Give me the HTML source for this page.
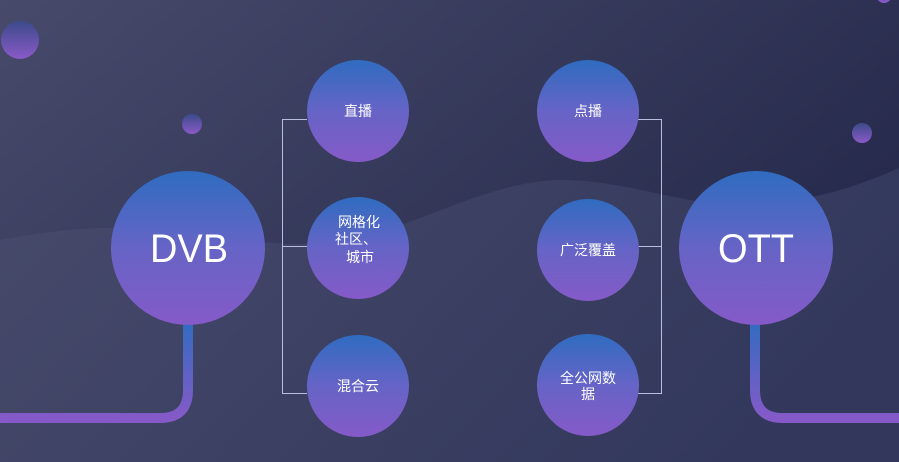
<!DOCTYPE html>
<html><head><meta charset="utf-8"><style>
html,body{margin:0;padding:0;width:899px;height:462px;overflow:hidden;background:#30355a}
svg{display:block}
text{font-family:"Liberation Sans","Noto Sans CJK SC",sans-serif;fill:#fff;text-anchor:middle}
</style></head><body>
<svg width="899" height="462" viewBox="0 0 899 462" xmlns="http://www.w3.org/2000/svg">
<defs>
<linearGradient id="bg" x1="0" y1="0" x2="1" y2="0.6">
<stop offset="0" stop-color="#474a6b"/><stop offset="1" stop-color="#232749"/></linearGradient>
<linearGradient id="wv" x1="0" y1="0" x2="1" y2="0.3">
<stop offset="0" stop-color="#474a6b"/><stop offset="1" stop-color="#343a5e"/></linearGradient>
<linearGradient id="c" x1="0" y1="0" x2="0" y2="1">
<stop offset="0" stop-color="#2f6cc0"/><stop offset="0.5" stop-color="#6664c6"/><stop offset="1" stop-color="#855ac8"/></linearGradient>
<linearGradient id="p" x1="0" y1="0" x2="0" y2="1">
<stop offset="0" stop-color="#2f6cc0"/><stop offset="1" stop-color="#855ac8"/></linearGradient>
<linearGradient id="d" x1="0" y1="0" x2="0" y2="1">
<stop offset="0" stop-color="#3b4a8a"/><stop offset="1" stop-color="#8a5ac8"/></linearGradient>
</defs>
<rect width="899" height="462" fill="url(#bg)"/>
<path d="M0,240 C40,232 90,226 140,228 C220,232 270,250 330,242 C420,230 480,182 560,180 C620,180 670,200 720,204 C790,208 850,190 899,168 L899,462 L0,462 Z" fill="url(#wv)" opacity="0.92"/>
<circle cx="20" cy="40" r="19" fill="url(#d)"/>
<circle cx="192" cy="124" r="10" fill="url(#d)"/>
<circle cx="862" cy="133" r="10" fill="url(#d)"/>
<circle cx="884" cy="-5" r="8" fill="url(#d)"/>
<path d="M188,320 L188,390 Q188,418 160,418 L0,418" stroke="url(#p)" stroke-width="10" fill="none"/>
<path d="M755,320 L755,390 Q755,418 783,418 L899,418" stroke="url(#p)" stroke-width="10" fill="none"/>
<g stroke="#b9bde0" stroke-width="1" fill="none">
<path d="M307,119.5 H282.5 V393.5 H307"/><path d="M282.5,246.5 H307"/>
<path d="M637,119.5 H661.5 V393.5 H637"/><path d="M661.5,246.5 H637"/>
</g>
<circle cx="188" cy="248" r="77" fill="url(#c)"/>
<circle cx="756" cy="248" r="77" fill="url(#c)"/>
<circle cx="358" cy="111" r="51" fill="url(#c)"/>
<circle cx="358" cy="248" r="51" fill="url(#c)"/>
<circle cx="358" cy="386" r="51" fill="url(#c)"/>
<circle cx="588" cy="111" r="51" fill="url(#c)"/>
<circle cx="588" cy="250" r="51" fill="url(#c)"/>
<circle cx="588" cy="385" r="51" fill="url(#c)"/>
<text x="189" y="262" font-size="40" textLength="78" lengthAdjust="spacingAndGlyphs">DVB</text>
<text x="756" y="262" font-size="40" textLength="76" lengthAdjust="spacingAndGlyphs">OTT</text>
<g font-size="14">
<text x="358" y="116">直播</text>
<text x="359" y="227">网格化</text>
<text x="356" y="244">社区、</text>
<text x="360" y="262">城市</text>
<text x="358" y="391">混合云</text>
<text x="588" y="116">点播</text>
<text x="588" y="255">广泛覆盖</text>
<text x="588" y="383">全公网数</text>
<text x="588" y="399">据</text>
</g>
</svg>
</body></html>
